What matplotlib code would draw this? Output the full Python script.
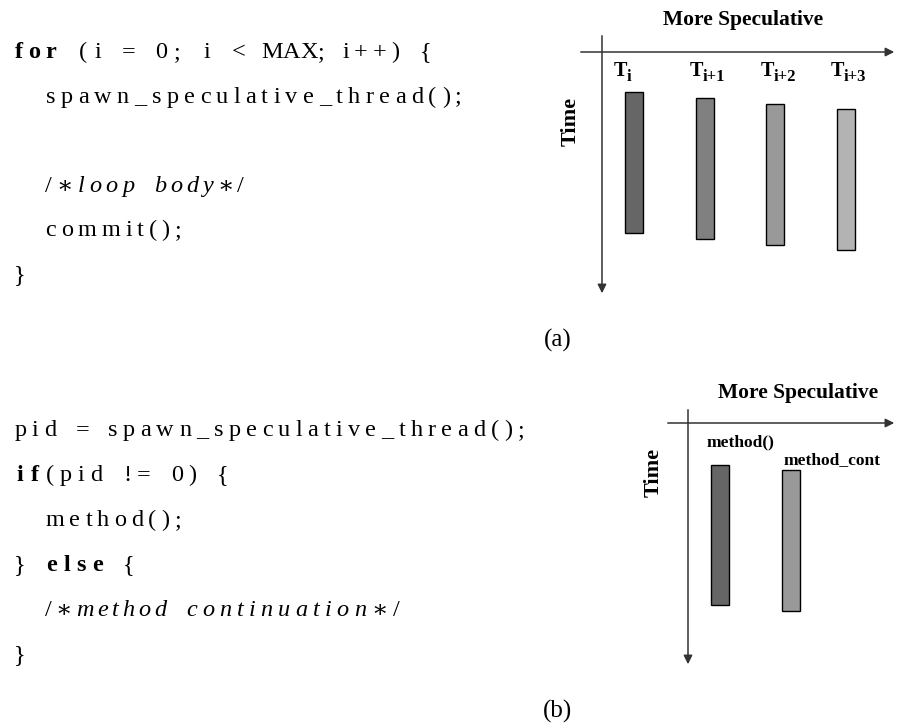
import matplotlib.pyplot as plt
from matplotlib.font_manager import FontProperties

SERIF = ['Liberation Serif', 'DejaVu Serif']

# code listings: list of (text, style) segments per line; b=bold, i=italic, n=normal
code_a = [
    [("for", "b"), (" (i = 0; i < MAX; i++) {", "n")],
    [("  spawn_speculative_thread();", "n")],
    [],
    [("  ", "n"), ("/*loop body*/", "i")],
    [("  commit();", "n")],
    [("}", "n")],
]
code_b = [
    [("pid = spawn_speculative_thread();", "n")],
    [("if", "b"), ("(pid != 0) {", "n")],
    [("  method();", "n")],
    [("} ", "n"), ("else", "b"), (" {", "n")],
    [("  ", "n"), ("/*method continuation*/", "i")],
    [("}", "n")],
]

# threads: subscript / label, start and end time (pixel rows of the diagram)
subs_a = ['i', 'i+1', 'i+2', 'i+3']
starts_a = [92, 98, 104, 109]
ends_a = [233, 239, 245, 250]
colors_a = ['#666666', '#808080', '#999999', '#b3b3b3']

labels_b = ['method()', 'method_cont']
starts_b = [465, 470]
ends_b = [605, 611]
colors_b = ['#666666', '#999999']

fig = plt.figure(figsize=(8.98, 7.28), dpi=100)
ax = fig.add_axes([0, 0, 1, 1])
ax.set_xlim(0, 898)
ax.set_ylim(728, 0)
ax.axis('off')
renderer = fig.canvas.get_renderer()

COLW = 15.6
CODE_FS = 17.5


def text_width(s, fp):
    w, h, d = renderer.get_text_width_height_descent(s, fp, ismath=False)
    return w


def props(st, ch):
    return FontProperties(family=SERIF, size=CODE_FS,
                          weight='bold' if st == 'b' else 'normal',
                          style='italic' if (st == 'i' and ch.isalpha()) else 'normal')


def draw_code(lines, x0, y0, dy):
    for li, segs in enumerate(lines):
        y = y0 + li * dy
        col = 0
        for txt, st in segs:
            i = 0
            while i < len(txt):
                if txt[i] == ' ':
                    col += 1
                    i += 1
                    continue
                j = i
                while j < len(txt) and txt[j] != ' ':
                    j += 1
                word = [('\u2217' if c == '*' else c) for c in txt[i:j]]
                fps = [props(st, c) for c in word]
                ws = [text_width(c, fp) for c, fp in zip(word, fps)]
                n = len(word)
                avail = n * COLW
                total = sum(ws)
                if total <= avail:
                    extra = (avail - total) / n
                    left = x0 + col * COLW + extra / 2
                else:
                    extra = 0
                    left = x0 + col * COLW + (avail - total) / 2
                for c, fp, w in zip(word, fps, ws):
                    ax.text(left, y, c, ha='left', va='baseline', fontproperties=fp)
                    left += w + extra
                col += n
                i = j


draw_code(code_a, 12, 58, 44.6)
draw_code(code_b, 12, 436, 45)


def draw_axes(xh0, xh1, yh, xv, yv0, yv1):
    ax.annotate('', xy=(xh1, yh), xytext=(xh0, yh),
                arrowprops=dict(arrowstyle='-|>', color='#333333', lw=1.1, mutation_scale=13))
    ax.annotate('', xy=(xv, yv1), xytext=(xv, yv0),
                arrowprops=dict(arrowstyle='-|>', color='#333333', lw=1.1, mutation_scale=13))


# panel (a) diagram
centers_a = [634, 705, 775, 846]
label_x_a = [614, 690, 761, 831]
draw_axes(578, 897, 52, 602, 33, 296)
ax.bar(centers_a, [e - s for s, e in zip(starts_a, ends_a)], bottom=starts_a, width=18,
       color=colors_a, edgecolor='black', linewidth=1)
fp_T = FontProperties(family=SERIF, size=14.5, weight='bold')
fp_sub = FontProperties(family=SERIF, size=12, weight='bold')
wT = text_width('T', fp_T)
for x, sub in zip(label_x_a, subs_a):
    ax.text(x, 76, 'T', ha='left', va='baseline', fontproperties=fp_T)
    ax.text(x + wT - 1, 81, sub, ha='left', va='baseline', fontproperties=fp_sub)
ax.text(743, 20, 'More Speculative', ha='center', va='center', fontsize=15.5,
        family=SERIF, fontweight='bold')
ax.text(571, 121, 'Time', ha='center', va='center', rotation=90, fontsize=16,
        family=SERIF, fontweight='bold')
ax.text(558, 340, '(a)', ha='center', va='center', fontsize=18, family=SERIF)

# panel (b) diagram
centers_b = [720, 791]
draw_axes(665, 897, 423, 688, 407, 667)
ax.bar(centers_b, [e - s for s, e in zip(starts_b, ends_b)], bottom=starts_b, width=18,
       color=colors_b, edgecolor='black', linewidth=1)
ax.text(740, 442, labels_b[0], ha='center', va='center', fontsize=12.5,
        family=SERIF, fontweight='bold')
ax.text(832, 460, labels_b[1], ha='center', va='center', fontsize=12.5,
        family=SERIF, fontweight='bold')
ax.text(798, 393, 'More Speculative', ha='center', va='center', fontsize=15.5,
        family=SERIF, fontweight='bold')
ax.text(654, 472, 'Time', ha='center', va='center', rotation=90, fontsize=16,
        family=SERIF, fontweight='bold')
ax.text(558, 711, '(b)', ha='center', va='center', fontsize=18, family=SERIF)

fig.savefig('out.png', dpi=100)
